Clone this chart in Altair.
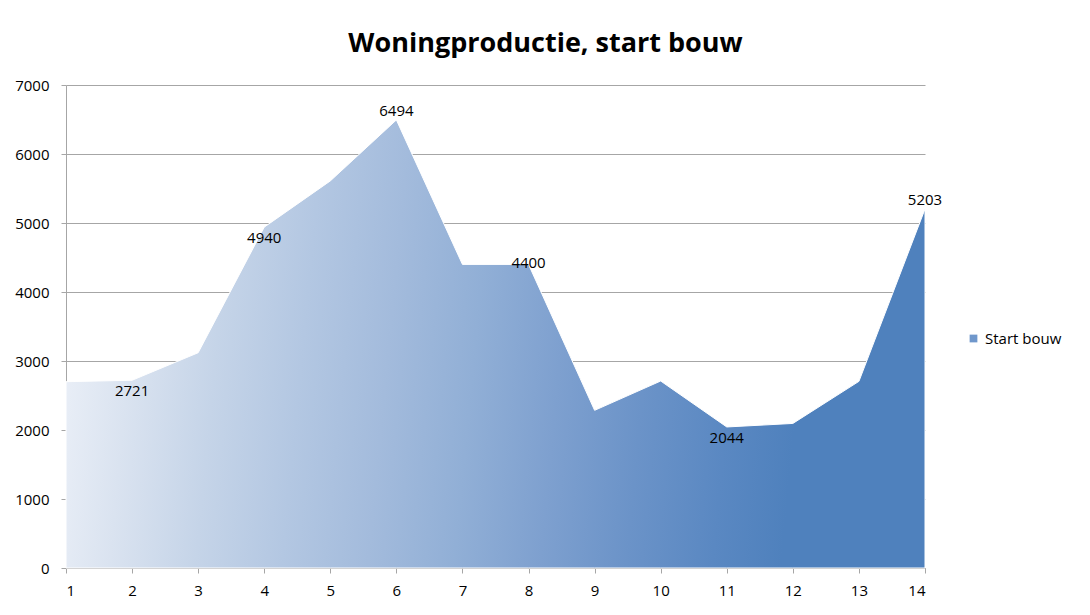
import altair as alt
import pandas as pd

periods = list(range(1, 15))
start_bouw = [2700, 2721, 3120, 4940, 5610, 6494, 4400, 4400, 2285, 2710, 2044, 2095, 2705, 5203]
series_name = "Start bouw"

label_periods = [2, 4, 6, 8, 11, 14]
label_values = [2721, 4940, 6494, 4400, 2044, 5203]
label_side = ["below", "below", "above", "middle", "below", "above"]

df = pd.DataFrame({"periode": periods, "waarde": start_bouw, "serie": [series_name] * len(periods)})
lab = pd.DataFrame({"periode": label_periods, "waarde": label_values, "side": label_side})

FONT = "Open Sans"
gradient = alt.LinearGradient(
    gradient="linear",
    x1=0, y1=0, x2=1, y2=0.05,
    stops=[
        alt.GradientStop(offset=0, color="#eef2f9"),
        alt.GradientStop(offset=0.1, color="#dae3f0"),
        alt.GradientStop(offset=0.2, color="#c5d4e8"),
        alt.GradientStop(offset=0.3, color="#b3c7e2"),
        alt.GradientStop(offset=0.4, color="#a3bbdc"),
        alt.GradientStop(offset=0.5, color="#91afd6"),
        alt.GradientStop(offset=0.6, color="#7ea0cf"),
        alt.GradientStop(offset=0.7, color="#6b93c8"),
        alt.GradientStop(offset=0.8, color="#5a88c2"),
        alt.GradientStop(offset=0.88, color="#4f81bd"),
        alt.GradientStop(offset=1, color="#4f81bd"),
    ],
)

x_enc = alt.X(
    "periode:Q",
    scale=alt.Scale(domain=[1, 14], nice=False, zero=False),
    axis=alt.Axis(values=periods, format="d", grid=False, tickSize=5, labelPadding=10,
                  domainColor="#a6a6a6", tickColor="#a6a6a6", labelFontSize=15,
                  labelFont=FONT, labelColor="#000000", title=None),
)
y_enc = alt.Y(
    "waarde:Q",
    scale=alt.Scale(domain=[0, 7000], nice=False),
    axis=alt.Axis(values=[0, 1000, 2000, 3000, 4000, 5000, 6000, 7000], format="d", grid=True,
                  gridColor="#a6a6a6", gridWidth=1, tickSize=5, labelPadding=12,
                  domainColor="#a6a6a6", tickColor="#a6a6a6", labelFontSize=15,
                  labelFont=FONT, labelColor="#000000", title=None),
)

area = alt.Chart(df).mark_area(fill=gradient, stroke="#ffffff", strokeWidth=1, line=False).encode(
    x=x_enc, y=y_enc
)

legend_layer = alt.Chart(df).mark_point(filled=True, shape="square", opacity=0, size=1).encode(
    x="periode:Q",
    y="waarde:Q",
    color=alt.Color(
        "serie:N",
        scale=alt.Scale(domain=[series_name], range=["#6f97cb"]),
        legend=alt.Legend(title=None, orient="none", legendX=900, legendY=246,
                          symbolType="square", symbolSize=60, symbolOpacity=1,
                          labelFont=FONT, labelFontSize=15, labelColor="#000000",
                          symbolStrokeWidth=0),
    ),
)

def labels(side, dy):
    return alt.Chart(lab).transform_filter(alt.datum.side == side).mark_text(
        font=FONT, fontSize=15, color="#000000", dy=dy
    ).encode(x="periode:Q", y="waarde:Q", text=alt.Text("waarde:Q", format="d"))

chart = alt.layer(
    area, legend_layer, labels("below", 11), labels("above", -9), labels("middle", -1)
).properties(
    width=859,
    height=483,
    autosize=alt.AutoSizeParams(type="none"),
    padding={"left": 58, "top": 77, "right": 155, "bottom": 36},
    title=alt.TitleParams("Woningproductie, start bouw", font=FONT, fontSize=27,
                          fontWeight="bold", color="#000000", anchor="middle",
                          dx=50, offset=20),
    background="#ffffff",
).configure_view(stroke=None)

chart.save("out.html", embed_options={"renderer": "svg", "actions": False})
